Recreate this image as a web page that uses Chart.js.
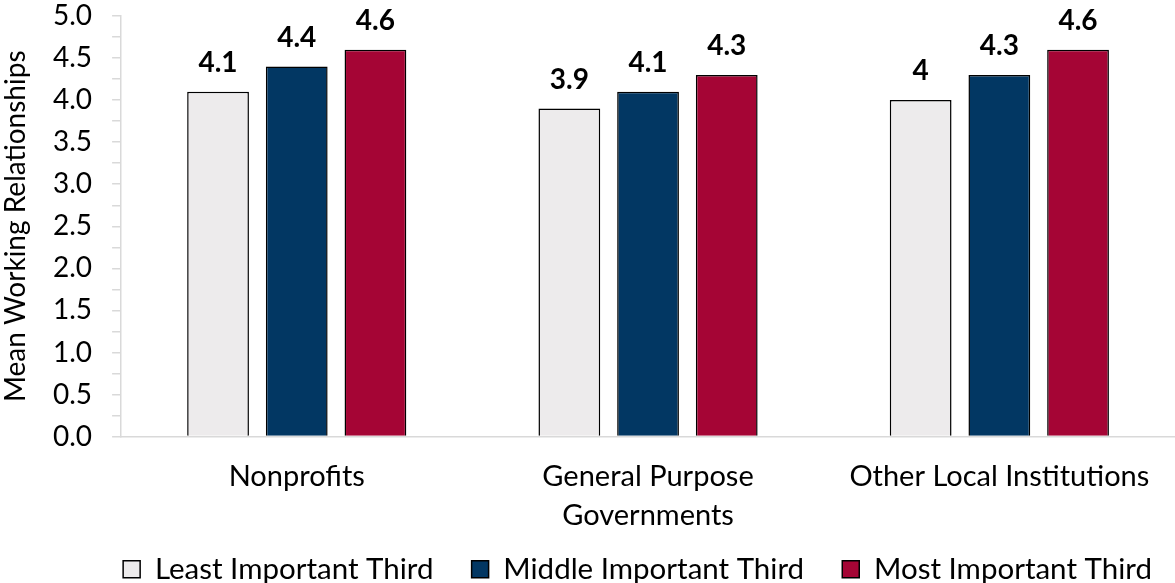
<!DOCTYPE html>
<html>
<head>
<meta charset="utf-8">
<script src="https://cdn.jsdelivr.net/npm/chart.js@4"></script>
<style>
  html, body { margin: 0; padding: 0; background: #fff; }
  #wrap { width: 1175px; height: 583px; }
</style>
</head>
<body>
<div id="wrap"><canvas id="chart"></canvas></div>
<script>
// data
const categories = ['Nonprofits', ['General Purpose', 'Governments'], 'Other Local Institutions'];
const leastImportant = [4.1, 3.9, 4];
const middleImportant = [4.4, 4.1, 4.3];
const mostImportant = [4.6, 4.3, 4.6];
const seriesNames = ['Least Important Third', 'Middle Important Third', 'Most Important Third'];

const FONT = 'Lato, "Open Sans", sans-serif';
// trailing spaces so the legend items sit as far apart as in the original
const GAPS = ['    ', '    ', '  '];

// draws the value above each bar
const barLabels = {
    id: 'barLabels',
    afterDatasetsDraw(chart) {
        const ctx = chart.ctx;
        ctx.save();
        ctx.font = 'bold 28px ' + FONT;
        ctx.fillStyle = '#000';
        ctx.textAlign = 'center';
        ctx.textBaseline = 'bottom';
        chart.data.datasets.forEach((ds, i) => {
            chart.getDatasetMeta(i).data.forEach((bar, j) => {
                ctx.fillText(String(ds.data[j]), bar.x, bar.y - 15);
            });
        });
        ctx.restore();
    }
};

new Chart(document.getElementById('chart'), {
    type: 'bar',
    data: {
        labels: categories,
        datasets: [
            {
                label: seriesNames[0],
                data: leastImportant,
                backgroundColor: '#EDEBEC',
                borderColor: '#000',
                borderWidth: 1.5
            },
            {
                label: seriesNames[1],
                data: middleImportant,
                backgroundColor: '#023763',
                borderColor: '#000',
                borderWidth: 1.5
            },
            {
                label: seriesNames[2],
                data: mostImportant,
                backgroundColor: '#A50535',
                borderColor: '#000',
                borderWidth: 1.5
            }
        ]
    },
    options: {
        responsive: true,
        maintainAspectRatio: false,
        animation: false,
        categoryPercentage: 0.672,
        barPercentage: 0.785,
        layout: { padding: { top: 0, right: 0, left: 0, bottom: -11 } },
        plugins: {
            legend: {
                position: 'bottom',
                align: 'end',
                labels: {
                    color: '#000',
                    font: { family: FONT, size: 29.5 },
                    boxWidth: 17,
                    boxHeight: 17,
                    padding: 8,
                    generateLabels(chart) {
                        const items = Chart.defaults.plugins.legend.labels.generateLabels(chart);
                        items.forEach((it, i) => { it.text = it.text + GAPS[i]; });
                        return items;
                    }
                }
            },
            tooltip: { enabled: false }
        },
        scales: {
            x: {
                grid: { display: false, drawTicks: false },
                border: { color: '#D9D9D9', width: 1.5 },
                ticks: {
                    color: '#000',
                    font: { family: FONT, size: 29, lineHeight: 1.36 },
                    padding: 20,
                    maxRotation: 0,
                    autoSkip: false
                },
                afterFit(scale) {
                    scale.height -= 9;
                }
            },
            y: {
                min: 0,
                max: 5,
                border: { color: '#D9D9D9', width: 1.5 },
                grid: {
                    drawOnChartArea: false,
                    color: '#D9D9D9',
                    tickLength: 9,
                    lineWidth: 1.5
                },
                ticks: {
                    stepSize: 0.25,
                    autoSkip: false,
                    color: '#000',
                    padding: 20,
                    font: { family: FONT, size: 28 },
                    callback: v => (Math.round(v * 100) % 50 === 0 ? v.toFixed(1) : '')
                },
                title: {
                    display: true,
                    text: 'Mean Working Relationships',
                    color: '#000',
                    font: { family: FONT, size: 28, lineHeight: 1 },
                    padding: { top: 2, bottom: 3 }
                },
                afterFit(scale) {
                    scale.paddingTop = 16;
                    scale.paddingBottom = 16;
                }
            }
        }
    },
    plugins: [barLabels]
});
</script>
</body>
</html>
